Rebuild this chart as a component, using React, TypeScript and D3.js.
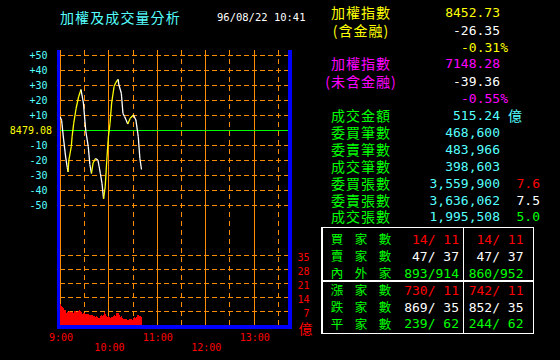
import { useEffect, useRef } from 'react';
import * as d3 from 'd3';

// 加權指數 走勢（距 9:00 的分鐘數, 相對昨收的漲跌點）
const prevClose = 8479.08;
const lineMinutes = [0, 2, 4, 7, 9, 10, 11, 14, 15, 17, 20, 23, 26, 29, 32, 35, 37, 39, 41, 44, 47, 50, 52, 54, 56, 58, 60, 62, 64, 67, 69, 72, 73, 76, 78, 80, 84, 87, 91, 94, 97, 99, 101];
const lineChanges = [8.8, 6.5, -4, -18, -25, -28, -20, -11, -4.5, 4.5, 14.5, 22, 27, 18, -1, -11, -23, -29, -22, -19, -20, -29, -35.5, -46, -37.8, -20, -4.5, 4.5, 18, 29, 31.5, 33.7, 30, 24.5, 11, 9, 4, 7.8, 10, 6.7, -4.5, -19, -26.35];

// 每分鐘成交量（億）, 9:00 起
const volumes = [
  10.3, 9.6, 9.0, 8.6, 8.2, 7.4, 7.6, 6.2, 6.0, 6.6, 6.4, 6.8, 6.1,
  6.3, 5.9, 6.5, 6.2, 6.8, 6.4, 6.9, 6.3, 6.6, 7.0, 7.3, 6.8, 7.1, 6.5,
  5.6, 5.9, 5.7, 6.0, 5.5, 5.4, 5.6, 5.1, 5.3, 5.0, 5.2, 4.8, 5.0, 4.5, 4.7,
  4.3, 4.0, 4.4, 3.6, 3.8, 3.4, 3.5, 4.2, 4.6, 4.9, 4.5, 5.2, 6.4, 6.0, 5.5,
  4.6, 4.2, 4.4, 3.9, 3.6, 3.3, 3.8, 3.5, 4.1, 4.6, 5.0, 4.4, 4.8,
  5.8, 5.5, 6.0, 5.2, 4.0, 3.7, 4.3, 3.5, 3.1, 2.8, 2.9, 2.6, 2.8, 2.5, 2.7,
  2.9, 2.6, 2.8, 3.0, 2.7, 2.9, 3.6, 4.0, 3.4, 3.8, 3.2, 5.0, 4.8, 4.6, 4.3, 4.1
];

const priceTicks = [50, 40, 30, 20, 10, 0, -10, -20, -30, -40, -50];
const volTicks = [7, 14, 21, 28, 35];
const timeTicks = [0, 60, 120, 180, 240];
const timeLabels = ['9:00', '10:00', '11:00', '12:00', '13:00'];
const halfHours = [30, 90, 150, 210, 270];

const infoLabels = ['加權指數', '(含金融)', '', '加權指數', '(未含金融)', '', '成交金額', '委買筆數', '委賣筆數', '成交筆數', '委買張數', '委賣張數', '成交張數'];
const infoValues = ['8452.73', '-26.35', '-0.31%', '7148.28', '-39.36', '-0.55%', '515.24', '468,600', '483,966', '398,603', '3,559,900', '3,636,062', '1,995,508'];
const ratioValues = ['7.6', '7.5', '5.0'];

const tableLabels = ['買家數', '賣家數', '內外家', '漲家數', '跌家數', '平家數'];
const tableCol1 = ['14/ 11', '47/ 37', '893/914', '730/ 11', '869/ 35', '239/ 62'];
const tableCol2 = ['14/ 11', '47/ 37', '860/952', '742/ 11', '852/ 35', '244/ 62'];

const MONO = '"DejaVu Sans Mono", monospace';
const CJK = '"Noto Sans CJK TC", sans-serif';
const ORANGE = '#ff8c00';

const draw = (el) => {
  const svg = d3.select(el);
  svg.selectAll('*').remove();

  svg.append('rect').attr('width', 560).attr('height', 360).attr('fill', '#000');

  const x = d3.scaleLinear().domain([0, 285]).range([60, 290]);
  const y = d3.scaleLinear().domain([-50, 50]).range([205, 55]);
  const yv = d3.scaleLinear().domain([0, 35]).range([325, 255]);

  // title
  svg.append('text').attr('x', 60).attr('y', 17).attr('dominant-baseline', 'central')
    .attr('fill', '#55ffff').attr('font-family', CJK).attr('font-size', 14).attr('letter-spacing', 1.1).text('加權及成交量分析');
  svg.append('text').attr('x', 217).attr('y', 17).attr('dominant-baseline', 'central')
    .attr('fill', '#fff').attr('font-family', MONO).attr('font-size', 10.5).text('96/08/22 10:41');

  const grid = svg.append('g').attr('shape-rendering', 'crispEdges');

  // horizontal dashed lines
  priceTicks.filter(d => d !== 0).forEach(d => {
    grid.append('line').attr('x1', 60).attr('x2', 288).attr('y1', Math.round(y(d)) + 0.5).attr('y2', Math.round(y(d)) + 0.5)
      .attr('stroke', ORANGE).attr('stroke-dasharray', '5,3');
  });
  volTicks.forEach(d => {
    grid.append('line').attr('x1', 60).attr('x2', 288).attr('y1', Math.round(yv(d)) + 0.5).attr('y2', Math.round(yv(d)) + 0.5)
      .attr('stroke', ORANGE).attr('stroke-dasharray', '5,3');
  });
  // vertical lines
  timeTicks.forEach(m => {
    grid.append('line').attr('x1', Math.round(x(m)) + 0.5).attr('x2', Math.round(x(m)) + 0.5).attr('y1', 50).attr('y2', 325)
      .attr('stroke', ORANGE);
  });
  halfHours.forEach(m => {
    grid.append('line').attr('x1', Math.round(x(m)) + 0.5).attr('x2', Math.round(x(m)) + 0.5).attr('y1', 50).attr('y2', 325)
      .attr('stroke', ORANGE).attr('stroke-dasharray', '5,4');
  });

  // volume bars
  svg.append('g').attr('shape-rendering', 'crispEdges')
    .selectAll('rect').data(volumes).enter().append('rect')
    .attr('x', (d, i) => x(i))
    .attr('width', (d, i) => x(i + 1) - x(i) + 0.3)
    .attr('y', d => yv(d))
    .attr('height', d => 325 - yv(d))
    .attr('fill', '#ff0000');

  // zero line
  grid.append('line').attr('x1', 60).attr('x2', 288).attr('y1', Math.round(y(0)) + 0.5).attr('y2', Math.round(y(0)) + 0.5)
    .attr('stroke', '#00ff00');

  // index line, yellow up / white down
  const pts = lineMinutes.map((m, i) => [x(m), y(lineChanges[i])]);
  const seg = svg.append('g');
  for (let i = 1; i < pts.length; i++) {
    seg.append('path')
      .attr('d', d3.line()([pts[i - 1], pts[i]]))
      .attr('stroke', lineChanges[i] >= lineChanges[i - 1] ? '#ffff00' : '#ffffff')
      .attr('stroke-width', 1.3)
      .attr('fill', 'none');
  }

  // blue frame
  const frame = svg.append('g').attr('fill', '#0000ff').attr('shape-rendering', 'crispEdges');
  frame.append('rect').attr('x', 57).attr('y', 50).attr('width', 3).attr('height', 279);
  frame.append('rect').attr('x', 288).attr('y', 50).attr('width', 4).attr('height', 279);
  frame.append('rect').attr('x', 57).attr('y', 325).attr('width', 235).attr('height', 4);

  // price axis labels
  svg.append('g').selectAll('text').data(priceTicks).enter().append('text')
    .attr('x', d => d === 0 ? 52 : 47.5)
    .attr('y', d => y(d) + 0.5)
    .attr('dominant-baseline', 'central')
    .attr('text-anchor', 'end')
    .attr('font-family', MONO).attr('font-size', 10)
    .attr('fill', d => d === 0 ? '#ffff00' : '#55ffff')
    .text(d => d === 0 ? prevClose.toFixed(2) : (d > 0 ? '+' + d : String(d)));

  // volume axis labels
  svg.append('g').selectAll('text').data(volTicks).enter().append('text')
    .attr('x', 309.5).attr('y', d => yv(d) + 2)
    .attr('dominant-baseline', 'central').attr('text-anchor', 'end')
    .attr('font-family', MONO).attr('font-size', 10).attr('fill', '#ff0000')
    .text(d => d);
  svg.append('text').attr('x', 305.5).attr('y', 328).attr('dominant-baseline', 'central').attr('text-anchor', 'middle')
    .attr('font-family', CJK).attr('font-size', 14).attr('fill', '#ff0000').text('億');

  // time labels
  svg.append('g').selectAll('text').data(timeTicks).enter().append('text')
    .attr('x', d => x(d) + 1).attr('y', (d, i) => i % 2 === 0 ? 337 : 347)
    .attr('dominant-baseline', 'central').attr('text-anchor', 'middle')
    .attr('font-family', MONO).attr('font-size', 10).attr('fill', '#ff0000')
    .text((d, i) => timeLabels[i]);

  // info panel
  const rowY = [12, 30, 47, 63, 81, 98, 115, 131.7, 148.5, 165.5, 182.5, 199.5, 216.3];
  const labelColor = (i) => i < 3 ? '#ffff00' : i < 6 ? '#ff00ff' : '#00ff00';
  const valueColor = (i) => {
    if (i === 1 || i === 4) return '#ffffff';
    if (i === 0 || i === 2) return '#ffff00';
    if (i === 3 || i === 5) return '#ff00ff';
    return '#55ffff';
  };
  infoLabels.forEach((t, i) => {
    if (!t) return;
    svg.append('text').attr('x', 361).attr('y', rowY[i]).attr('dominant-baseline', 'central').attr('text-anchor', 'middle')
      .attr('font-family', CJK).attr('font-size', 14).attr('letter-spacing', 1)
      .attr('fill', labelColor(i)).text(t);
  });
  infoValues.forEach((t, i) => {
    svg.append('text').attr('x', t.endsWith('%') ? 508 : 500).attr('y', rowY[i] + 0.5)
      .attr('dominant-baseline', 'central').attr('text-anchor', 'end')
      .attr('font-family', MONO).attr('font-size', 13).attr('fill', valueColor(i)).text(t);
  });
  svg.append('text').attr('x', 508).attr('y', rowY[6]).attr('dominant-baseline', 'central')
    .attr('font-family', CJK).attr('font-size', 14).attr('fill', '#55ffff').text('億');
  const ratioColors = ['#ff0000', '#ffffff', '#00ff00'];
  ratioValues.forEach((t, i) => {
    svg.append('text').attr('x', 540).attr('y', rowY[10 + i] + 0.5)
      .attr('dominant-baseline', 'central').attr('text-anchor', 'end')
      .attr('font-family', MONO).attr('font-size', 13).attr('fill', ratioColors[i]).text(t);
  });

  // table
  const tbl = svg.append('g').attr('shape-rendering', 'crispEdges');
  tbl.append('rect').attr('x', 322).attr('y', 227.5).attr('width', 211.5).attr('height', 106)
    .attr('fill', 'none').attr('stroke', '#fff').attr('stroke-width', 1.5);
  tbl.append('line').attr('x1', 322).attr('x2', 533.5).attr('y1', 281).attr('y2', 281).attr('stroke', '#fff').attr('stroke-width', 1.5);
  tbl.append('line').attr('x1', 463.5).attr('x2', 463.5).attr('y1', 227.5).attr('y2', 333.5).attr('stroke', '#fff').attr('stroke-width', 1.5);

  const tRowY = [238.5, 255.5, 272.5, 289.5, 306.5, 323.3];
  const tColors = ['#ff0000', '#ffffff', '#00ff00', '#ff0000', '#ffffff', '#00ff00'];
  const charX = [337, 361, 385];
  tableLabels.forEach((t, i) => {
    t.split('').forEach((c, j) => {
      svg.append('text').attr('x', charX[j]).attr('y', tRowY[i]).attr('dominant-baseline', 'central').attr('text-anchor', 'middle')
        .attr('font-family', CJK).attr('font-size', 12.5).attr('fill', '#00ff00').text(c);
    });
    svg.append('text').attr('x', 459).attr('y', tRowY[i] + 0.5).attr('dominant-baseline', 'central').attr('text-anchor', 'end')
      .attr('font-family', MONO).attr('font-size', 13).attr('fill', tColors[i]).text(tableCol1[i]);
    svg.append('text').attr('x', 523.5).attr('y', tRowY[i] + 0.5).attr('dominant-baseline', 'central').attr('text-anchor', 'end')
      .attr('font-family', MONO).attr('font-size', 13).attr('fill', tColors[i]).text(tableCol2[i]);
  });
};

const App = () => {
  const ref = useRef(null);

  useEffect(() => {
    draw(ref.current);
  }, []);

  return (
    <svg ref={ref} width={560} height={360} style={{ position: 'absolute', left: 0, top: 0, display: 'block' }} />
  );
};

export default App;
